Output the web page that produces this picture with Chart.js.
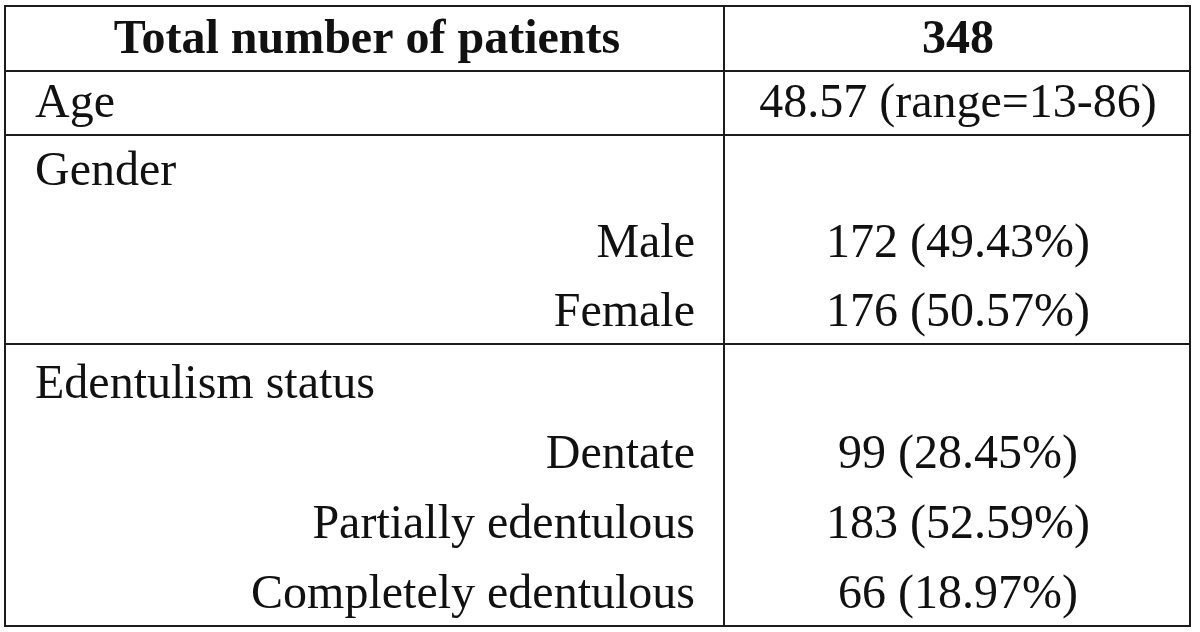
<!DOCTYPE html>
<html>
<head>
<meta charset="utf-8">
<script src="https://cdn.jsdelivr.net/npm/chart.js@4.4.1/dist/chart.umd.min.js"></script>
<style>
  html, body { margin: 0; padding: 0; background: #ffffff; }
  #wrap { width: 1200px; height: 632px; }
</style>
</head>
<body>
<div id="wrap"><canvas id="c" width="1200" height="632"></canvas></div>
<script>
// ---------------- DATA ----------------
const headerLabel = 'Total number of patients';
const totalPatients = 348;
const categories = ['Age', 'Gender', 'Male', 'Female', 'Edentulism status', 'Dentate', 'Partially edentulous', 'Completely edentulous'];
const rowKinds   = ['group', 'group', 'sub', 'sub', 'group', 'sub', 'sub', 'sub'];
const counts     = [null, null, 172, 176, null, 99, 183, 66];
const percents   = [null, null, 49.43, 50.57, null, 28.45, 52.59, 18.97];
const ageMean    = 48.57;
const ageRange   = [13, 86];

// ---------------- LAYOUT (styling only) ----------------
const rowHeights = [65, 64, 68, 72, 69, 72, 70, 70, 70]; // header + 8 rows
const baselineFromBottom = 18;
const tableWidth = 1185;
const dividerX   = 719;
const labelLeftX = 30;
const subRightX  = 690;
const headerCX   = 362;
const valueCX    = 953;
const sectionBreaks = [0, 1, 4]; // horizontal rule after header, after Age, after Female
const FONT = "'Liberation Serif', 'DejaVu Serif', serif";

const cum = [0];
rowHeights.forEach(h => cum.push(cum[cum.length - 1] + h));
const tableHeight = cum[cum.length - 1];
const rowBase = i => cum[i + 1] - baselineFromBottom;

function valueText(i) {
  if (i === 0) return ageMean.toFixed(2) + ' (range=' + ageRange[0] + '-' + ageRange[1] + ')';
  if (counts[i] == null) return '';
  return counts[i] + ' (' + percents[i].toFixed(2) + '%)';
}

const labelPoints = [{x: headerCX, y: rowBase(0), t: headerLabel, align: 'center', bold: true}];
const valuePoints = [{x: valueCX, y: rowBase(0), t: String(totalPatients), align: 'center', bold: true}];
categories.forEach((c, i) => {
  const sub = rowKinds[i] === 'sub';
  labelPoints.push({x: sub ? subRightX : labelLeftX, y: rowBase(i + 1), t: c, align: sub ? 'right' : 'left', bold: false});
  valuePoints.push({x: valueCX, y: rowBase(i + 1), t: valueText(i), align: 'center', bold: false});
});

const tablePlugin = {
  id: 'tablePlugin',
  afterDatasetsDraw(chart) {
    const ctx = chart.ctx;
    const xs = chart.scales.x, ys = chart.scales.y;
    const X = v => xs.getPixelForValue(v), Y = v => ys.getPixelForValue(v);
    ctx.save();
    ctx.strokeStyle = '#1c1c1c';
    ctx.lineWidth = 2;
    ctx.strokeRect(X(0), Y(0), X(tableWidth) - X(0), Y(tableHeight) - Y(0));
    ctx.beginPath();
    ctx.moveTo(X(dividerX), Y(0));
    ctx.lineTo(X(dividerX), Y(tableHeight));
    sectionBreaks.forEach(r => {
      const yy = Y(cum[r + 1]);
      ctx.moveTo(X(0), yy);
      ctx.lineTo(X(tableWidth), yy);
    });
    ctx.stroke();
    ctx.fillStyle = '#111111';
    ctx.textBaseline = 'alphabetic';
    chart.data.datasets.forEach((ds, di) => {
      const meta = chart.getDatasetMeta(di);
      meta.data.forEach((el, k) => {
        const p = ds.data[k];
        if (!p.t) return;
        ctx.font = (p.bold ? 'bold ' : '') + '48px ' + FONT;
        ctx.textAlign = p.align;
        ctx.fillText(p.t, el.x, el.y);
      });
    });
    ctx.restore();
  }
};

new Chart(document.getElementById('c'), {
  type: 'scatter',
  data: {
    datasets: [
      {label: 'labels', data: labelPoints, pointRadius: 0, pointHoverRadius: 0},
      {label: 'values', data: valuePoints, pointRadius: 0, pointHoverRadius: 0}
    ]
  },
  options: {
    responsive: false,
    animation: false,
    devicePixelRatio: 1,
    layout: {padding: {left: 5, top: 6, right: 10, bottom: 632 - 6 - tableHeight}},
    plugins: {legend: {display: false}, tooltip: {enabled: false}},
    events: [],
    scales: {
      x: {type: 'linear', min: 0, max: tableWidth, display: false},
      y: {type: 'linear', min: 0, max: tableHeight, reverse: true, display: false}
    }
  },
  plugins: [tablePlugin]
});
</script>
</body>
</html>
